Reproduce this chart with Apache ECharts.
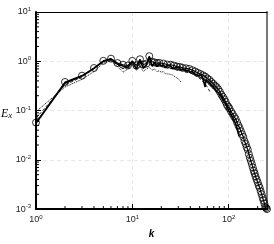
<!DOCTYPE html>
<html><head><meta charset="utf-8">
<script src="https://cdn.jsdelivr.net/npm/echarts@6/dist/echarts.min.js"></script>
<style>html,body{margin:0;padding:0;background:#fff}#c{width:274px;height:244px}</style>
</head><body><div id="c"></div>
<script>
// circle-marked spectrum (highest resolution)
const kCircle = [1,2,3,4,5,6,7,8,9,10,11,12,13,14,15,16,17,18,19,21,23,25,27,29,31,33,36,39,42,45,48,51,54,57,60,63,66,69,72,75,78,81,84,87,90,93,96,99,102,106,110,114,118,122,126,130,134,138,142,146,150,154,158,162,166,170,174,178,182,186,190,195,200,205,210,215,220,225,230,235,240,245,250];
const eCircle = [0.057,0.38,0.51,0.73,1.02,1.13,0.92,0.85,0.82,1.02,0.82,1.1,0.86,0.9,1.27,0.98,0.95,0.92,0.93,0.9,0.86,0.85,0.82,0.78,0.77,0.74,0.72,0.7,0.66,0.62,0.58,0.55,0.52,0.49,0.45,0.42,0.38,0.35,0.32,0.3,0.27,0.24,0.21,0.19,0.17,0.15,0.13,0.12,0.11,0.095,0.085,0.075,0.068,0.058,0.05,0.044,0.038,0.033,0.029,0.024,0.021,0.018,0.016,0.013,0.011,0.0095,0.0082,0.007,0.006,0.0053,0.0046,0.004,0.0035,0.003,0.0027,0.0023,0.002,0.0017,0.0015,0.0013,0.0011,0.00105,0.001];
// thick solid spectrum
const kSolid = [1,2,3,4,5,6,7,8,9,10,11,12,13,14,15,16,17,18,19,20,21,22,23,24,25,26,27,28,29,30,32,34,36,38,40,42,44,46,48,50,52,54,56,57,58,60,62,64,66,68,70,72,75,78,81,84,88,92,96,100,105,110,115,120,124,128];
const eSolid = [0.055,0.36,0.5,0.72,1.0,1.1,0.88,0.8,0.75,0.98,0.7,1.05,0.72,0.85,1.2,0.8,0.95,0.78,0.88,0.8,0.85,0.74,0.82,0.78,0.8,0.72,0.78,0.74,0.7,0.75,0.68,0.7,0.64,0.66,0.6,0.62,0.56,0.58,0.52,0.5,0.52,0.44,0.46,0.3,0.42,0.4,0.38,0.36,0.33,0.31,0.3,0.27,0.26,0.23,0.21,0.19,0.16,0.14,0.12,0.1,0.085,0.072,0.06,0.05,0.04,0.03];
// dashed spectrum
const kDashed = [1,2,3,4,5,6,7,8,9,10,11,12,13,14,15,16,18,20,22,24,26,28,30,33,36,40,44,48,52,56,60,64];
const eDashed = [0.07,0.33,0.48,0.7,1.0,1.05,0.85,0.7,0.8,0.9,0.72,0.95,0.75,0.82,1.0,0.8,0.82,0.78,0.75,0.72,0.7,0.68,0.66,0.64,0.6,0.58,0.52,0.48,0.42,0.36,0.3,0.24];
// dotted spectrum (lowest resolution)
const kDotted = [1,2,3,4,5,6,7,8,9,10,11,12,13,14,15,16,17,18,19,20,21,22,23,24,25,26,27,28,29,30,31,32];
const eDotted = [0.095,0.3,0.43,0.62,0.92,1.02,0.78,0.6,0.7,0.85,0.65,0.8,0.62,0.7,0.75,0.66,0.7,0.62,0.64,0.6,0.62,0.56,0.57,0.55,0.52,0.53,0.5,0.48,0.46,0.44,0.42,0.38];
// axis settings
const xMin = 1, xMax = 250, yMin = 0.001, yMax = 10;
const xMinor = [2,3,4,5,6,7,8,9,20,30,40,50,60,70,80,90,200];
const yMinor = [0.002,0.003,0.004,0.005,0.006,0.007,0.008,0.009,0.02,0.03,0.04,0.05,0.06,0.07,0.08,0.09,0.2,0.3,0.4,0.5,0.6,0.7,0.8,0.9,2,3,4,5,6,7,8,9];

const pairs = (ks, es) => ks.map((k, i) => [k, es[i]]);
const fmt = v => {
  const p = Math.log10(v), r = Math.round(p);
  if (Math.abs(p - r) > 1e-6) return '';
  return '{b|10}{s|' + r + '}';
};
const rich = {
  b: {fontFamily: 'Liberation Sans', fontSize: 9, color: '#222'},
  s: {fontFamily: 'Liberation Sans', fontSize: 6, color: '#222', verticalAlign: 'top', padding: [0, 0, 5, 0]}
};

const chart = echarts.init(document.getElementById('c'));
chart.setOption({
  animation: false,
  backgroundColor: '#fff',
  grid: {left: 36, top: 12, right: 7, bottom: 25, containLabel: false},
  xAxis: [{
    type: 'log', logBase: 10, min: xMin, max: xMax,
    axisLine: {lineStyle: {color: '#000', width: 2}},
    axisTick: {inside: true, length: 5, lineStyle: {color: '#000', width: 1}},
    axisLabel: {formatter: fmt, rich: rich, margin: 5},
    splitLine: {show: true, lineStyle: {color: '#e8e8e8', type: [4, 3], width: 1}},
    name: 'k', nameLocation: 'middle', nameGap: 16,
    nameTextStyle: {fontFamily: 'Liberation Sans', fontStyle: 'italic', fontWeight: 'bold', fontSize: 10, color: '#000'}
  }, {
    type: 'log', logBase: 10, min: xMin, max: xMax, position: 'top',
    axisLine: {lineStyle: {color: '#000', width: 1.2}},
    axisTick: {show: false}, axisLabel: {show: false}, splitLine: {show: false}
  }],
  yAxis: [{
    type: 'log', logBase: 10, min: yMin, max: yMax,
    axisLine: {lineStyle: {color: '#000', width: 2}},
    axisTick: {inside: true, length: 5, lineStyle: {color: '#000', width: 1}},
    axisLabel: {formatter: fmt, rich: rich, margin: 5},
    splitLine: {show: true, lineStyle: {color: '#e8e8e8', type: [4, 3], width: 1}}
  }, {
    type: 'log', logBase: 10, min: yMin, max: yMax, position: 'right',
    axisLine: {lineStyle: {color: '#777', width: 2}},
    axisTick: {show: false}, axisLabel: {show: false}, splitLine: {show: false}
  }],
  series: [
    {type: 'line', data: pairs(kDotted, eDotted), showSymbol: false, symbol: 'none',
     lineStyle: {color: '#000', width: 1, type: 'dotted'}, z: 2},
    {type: 'line', data: pairs(kDashed, eDashed), showSymbol: false, symbol: 'none',
     lineStyle: {color: '#111', width: 0.9, type: [3, 2]}, z: 3},
    {type: 'line', data: pairs(kSolid, eSolid), showSymbol: false, symbol: 'none',
     lineStyle: {color: '#000', width: 1.6}, z: 4},
    {type: 'line', data: pairs(kCircle, eCircle), symbol: 'circle', symbolSize: 7, showSymbol: true, showAllSymbol: true,
     itemStyle: {color: 'rgba(255,255,255,0)', borderColor: '#000', borderWidth: 0.8},
     lineStyle: {color: '#000', width: 1.2}, z: 5}
  ]
});

// minor ticks placed through the axes' own scales
const x0 = chart.convertToPixel({xAxisIndex: 0}, xMin);
const yB = chart.convertToPixel({yAxisIndex: 0}, yMin);
const g = [];
xMinor.forEach(v => {
  const px = chart.convertToPixel({xAxisIndex: 0}, v);
  g.push({type: 'line', shape: {x1: px, y1: yB, x2: px, y2: yB - 3}, style: {stroke: '#000', lineWidth: 1}, z: 10});
});
yMinor.forEach(v => {
  const py = chart.convertToPixel({yAxisIndex: 0}, v);
  g.push({type: 'line', shape: {x1: x0, y1: py, x2: x0 + 3, y2: py}, style: {stroke: '#000', lineWidth: 1}, z: 10});
});
g.push({type: 'text', left: 1, top: 108, z: 10,
  style: {text: '{e|E}{x|x}', rich: {
    e: {fontFamily: 'Liberation Serif', fontStyle: 'italic', fontSize: 12, fill: '#000'},
    x: {fontFamily: 'Liberation Serif', fontStyle: 'italic', fontSize: 9, fill: '#000', verticalAlign: 'bottom', padding: [4, 0, 0, 0]}
  }}});
chart.setOption({graphic: g});
</script></body></html>
